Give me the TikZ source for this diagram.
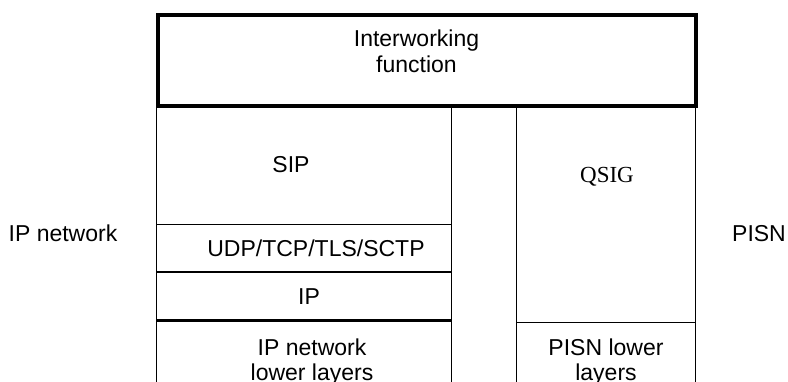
\documentclass[tikz,border=0pt]{standalone}
\usepackage{fontspec}
\setmainfont{Liberation Sans}
\newfontfamily\qserif{Liberation Serif}
\begin{document}
\begin{tikzpicture}[x=1pt,y=-1pt,
  cell/.style={draw=black,line width=1.2pt,inner sep=0pt,anchor=north west},
  thickcell/.style={draw=black,line width=4pt,inner sep=0pt,anchor=north west},
  lbl/.style={inner sep=0pt,align=center,font=\fontsize{23}{25.5}\selectfont}]
\clip (0,0) rectangle (788,382);
\useasboundingbox (0,0) rectangle (788,382);
% left column
\node[cell,minimum width=295pt,minimum height=120pt] (sip) at (155.5,104) {};
\node[cell,minimum width=295pt,minimum height=47pt] (udp) at (155.5,224) {};
\node[cell,minimum width=295pt,minimum height=48pt] (ip) at (155.5,271.5) {};
\node[cell,minimum width=295pt,minimum height=110pt] (ipll) at (155.5,321) {};
% right column
\node[cell,minimum width=179pt,minimum height=218pt] (qsig) at (516,104) {};
\node[cell,minimum width=179pt,minimum height=110pt] (pll) at (516,322) {};
% top box
\node[thickcell,minimum width=538pt,minimum height=91pt] (iwf) at (155.5,13) {};
% texts
\node[lbl] (iwft) at (416.5,51.5) {Interworking\\function};
\node[lbl,anchor=base] (sipt) at (291,173) {SIP};
\node[lbl,anchor=base] (udpt) at (316,257) {UDP/TCP/TLS/SCTP};
\node[lbl,anchor=base] (ipt) at (309,305) {IP};
\node[lbl,anchor=north] (ipllt) at (312,338.5) {IP network\\lower layers};
\node[lbl,anchor=base,font=\fontsize{23}{25.5}\qserif] (qsigt) at (607,183) {QSIG};
\node[lbl,anchor=north] (pllt) at (606,338.5) {PISN lower\\layers};
\node[lbl,anchor=base] (ipnet) at (63,242) {IP network};
\node[lbl,anchor=base] (pisn) at (759,242) {PISN};
\end{tikzpicture}
\end{document}
